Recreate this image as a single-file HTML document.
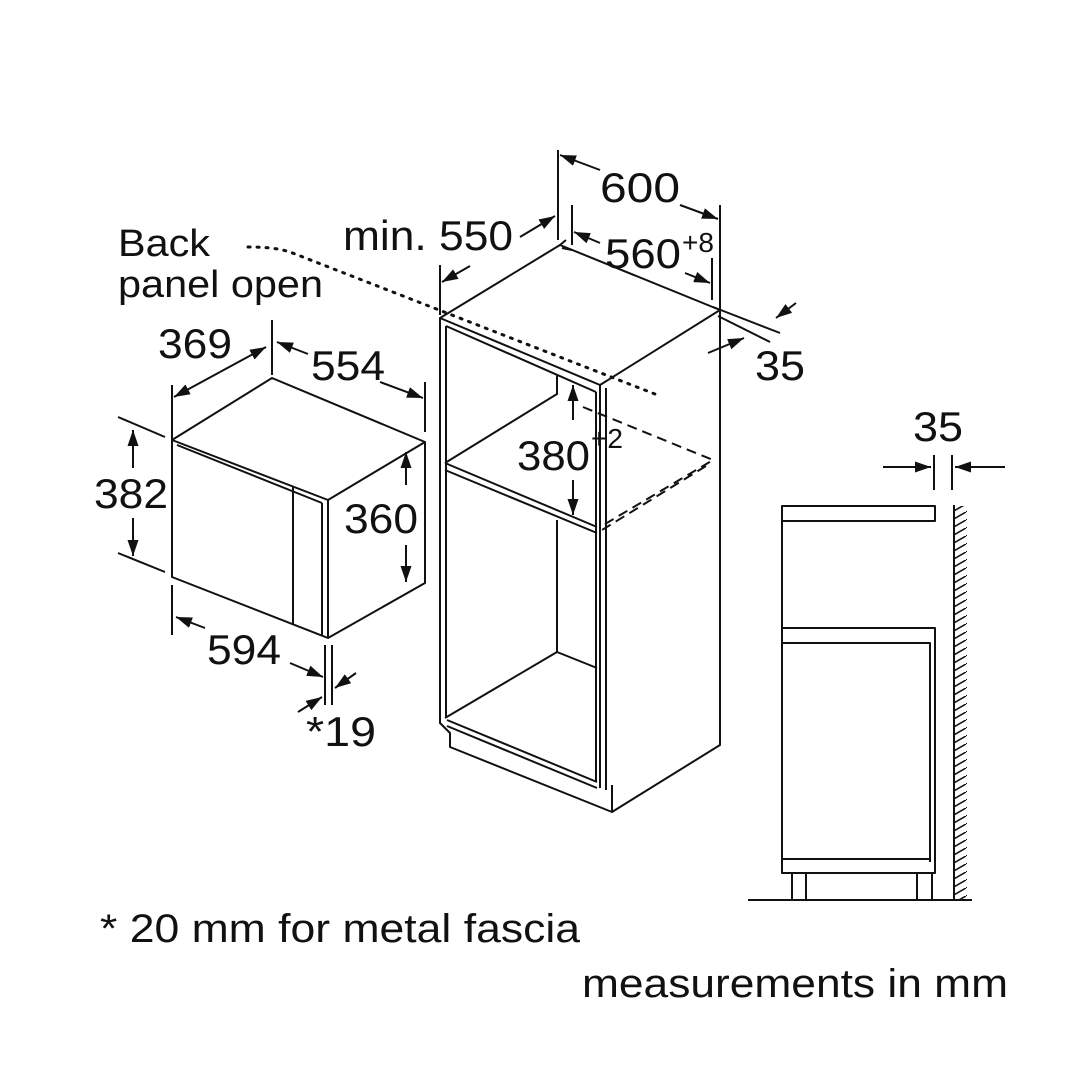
<!DOCTYPE html>
<html><head><meta charset="utf-8"><style>
html,body{margin:0;padding:0;background:#fff;}
svg{display:block}
text{font-family:"Liberation Sans",sans-serif;fill:#111;}
</style></head><body>
<svg width="1080" height="1080" viewBox="0 0 1080 1080" xmlns="http://www.w3.org/2000/svg">
<defs>
<marker id="a" viewBox="0 0 16 11" refX="16" refY="5.5" markerWidth="16" markerHeight="11" markerUnits="userSpaceOnUse" orient="auto"><path d="M0,0 L16,5.5 L0,11 z" fill="#111"/></marker>
<pattern id="h" width="14" height="8" patternUnits="userSpaceOnUse"><path d="M0,8 L14,0" stroke="#111" stroke-width="1.6"/></pattern>
</defs>
<g fill="none" stroke="#111" stroke-width="2" stroke-linejoin="round">
<path d="M440,318 L560,245 L720,310 L600,385 L440,318 Z"/>
<path d="M560,245 L566,240 M562,248 L572,250"/>
<path d="M440,318 L440,723 L450,733 L450,747 L612,812 L612,785"/>
<path d="M446,326 L446,718"/>
<path d="M600,385 L600,788 M606,388 L606,790 M596,392 L596,782"/>
<path d="M720,310 L720,745 L612,812"/>
<path d="M446,326 L596,392"/>
<path d="M445,463 L597,527 M445,470 L597,533"/>
<path d="M445,463 L557,394 L557,375"/>
<path d="M557,520 L557,652 L445,718 M557,652 L597,668"/>
<path d="M447,720 L597,782 M447,726 L597,788"/>
<path d="M583,407 L713,460 L600,527 M706,466 L602,530" stroke-dasharray="10,6"/>
<path d="M248,247 C270,247 280,249 290,252 L660,396" stroke-dasharray="2,7" stroke-width="3" stroke-linecap="round"/>
<path d="M558,150 L558,240 M720,205 L720,310 M440,265 L440,315 M572,205 L572,245 M712,258 L712,300"/>
<path d="M600,170 L560,155" marker-end="url(#a)"/>
<path d="M680,205 L718,219" marker-end="url(#a)"/>
<path d="M470,266 L442,282" marker-end="url(#a)"/>
<path d="M520,237 L555,216" marker-end="url(#a)"/>
<path d="M600,243 L574,232" marker-end="url(#a)"/>
<path d="M685,273 L710,283" marker-end="url(#a)"/>
<path d="M713,307 L780,333 M718,316 L770,342"/>
<path d="M796,303 L776,318" marker-end="url(#a)"/>
<path d="M708,353 L744,338" marker-end="url(#a)"/>
<path d="M573,420 L573,385" marker-end="url(#a)"/>
<path d="M573,480 L573,515" marker-end="url(#a)"/>
<path d="M172,440 L272,378 L425,442 L328,500 Z"/>
<path d="M172,440 L172,577 L328,638 L425,583 L425,442"/>
<path d="M328,500 L328,638 M322,503 L322,636 M177,445 L322,503"/>
<path d="M293,487 L293,624"/>
<path d="M172,385 L172,440 M272,320 L272,375 M425,382 L425,432"/>
<path d="M220,372 L174,397" marker-end="url(#a)"/>
<path d="M220,372 L266,347" marker-end="url(#a)"/>
<path d="M308,354 L277,342" marker-end="url(#a)"/>
<path d="M380,382 L423,398" marker-end="url(#a)"/>
<path d="M118,417 L165,437 M118,553 L165,572"/>
<path d="M133,468 L133,430" marker-end="url(#a)"/>
<path d="M133,518 L133,556" marker-end="url(#a)"/>
<path d="M406,485 L406,452" marker-end="url(#a)"/>
<path d="M406,545 L406,582" marker-end="url(#a)"/>
<path d="M172,585 L172,635 M325,645 L325,705 M332,645 L332,705"/>
<path d="M205,628 L176,617" marker-end="url(#a)"/>
<path d="M290,663 L323,677" marker-end="url(#a)"/>
<path d="M356,673 L335,688" marker-end="url(#a)"/>
<path d="M298,712 L322,697" marker-end="url(#a)"/>
<rect x="782" y="506" width="153" height="15"/>
<path d="M782,521 L782,873 L935,873 L935,628 L782,628 M782,643 L930,643 L930,862 M782,859 L930,859"/>
<path d="M792,873 L792,900 M806,873 L806,900 M917,873 L917,900 M932,873 L932,900"/>
<path d="M748,900 L972,900"/>
<path d="M954,505 L954,900"/>
<path d="M934,455 L934,490 M952,455 L952,490"/>
<path d="M883,467 L931,467" marker-end="url(#a)"/>
<path d="M1005,467 L955,467" marker-end="url(#a)"/>
</g>
<rect x="955" y="506" width="12" height="394" fill="url(#h)"/>
<g font-size="42">
<text x="118" y="256" font-size="38" textLength="92" lengthAdjust="spacingAndGlyphs">Back</text>
<text x="118" y="297" font-size="38" textLength="205" lengthAdjust="spacingAndGlyphs">panel open</text>
<text x="343" y="250" textLength="170" lengthAdjust="spacingAndGlyphs">min. 550</text>
<text x="600" y="202" textLength="80" lengthAdjust="spacingAndGlyphs">600</text>
<text x="605" y="268" textLength="76" lengthAdjust="spacingAndGlyphs">560</text>
<text x="682" y="252" font-size="28">+8</text>
<text x="755" y="380" textLength="50" lengthAdjust="spacingAndGlyphs">35</text>
<text x="517" y="470" textLength="73" lengthAdjust="spacingAndGlyphs">380</text>
<text x="591" y="448" font-size="28">+2</text>
<text x="158" y="358" textLength="74" lengthAdjust="spacingAndGlyphs">369</text>
<text x="311" y="380" textLength="74" lengthAdjust="spacingAndGlyphs">554</text>
<text x="94" y="508" textLength="74" lengthAdjust="spacingAndGlyphs">382</text>
<text x="344" y="533" textLength="74" lengthAdjust="spacingAndGlyphs">360</text>
<text x="207" y="664" textLength="74" lengthAdjust="spacingAndGlyphs">594</text>
<text x="306" y="746" textLength="70" lengthAdjust="spacingAndGlyphs">*19</text>
<text x="913" y="441" textLength="50" lengthAdjust="spacingAndGlyphs">35</text>
<text x="100" y="942" font-size="40" textLength="480" lengthAdjust="spacingAndGlyphs">* 20 mm for metal fascia</text>
<text x="582" y="997" font-size="40" textLength="426" lengthAdjust="spacingAndGlyphs">measurements in mm</text>
</g>
</svg>
</body></html>
